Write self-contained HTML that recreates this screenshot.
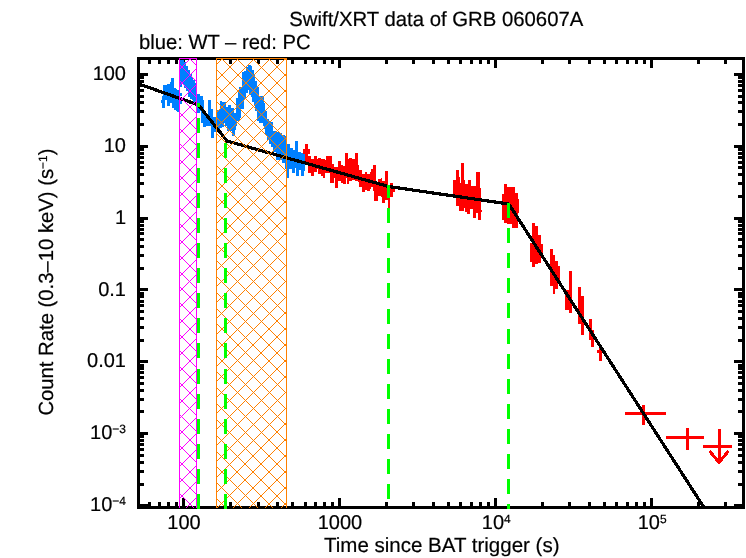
<!DOCTYPE html>
<html><head><meta charset="utf-8"><title>Swift/XRT data of GRB 060607A</title>
<style>html,body{margin:0;padding:0;background:#fff}svg{display:block}</style></head>
<body>
<svg width="746" height="558" viewBox="0 0 746 558" shape-rendering="crispEdges">
<rect width="746" height="558" fill="#fff"/>
<path d="M137 57H745V509H137Z M140 60V506H742V60Z" fill="#000" fill-rule="evenodd"/>
<path d="M148 60h3v4h-3zM148 502h3v4h-3zM158 60h3v4h-3zM158 502h3v4h-3zM167 60h3v4h-3zM167 502h3v4h-3zM175 60h3v4h-3zM175 502h3v4h-3zM182 60h3v8h-3zM182 498h3v8h-3zM229 60h3v4h-3zM229 502h3v4h-3zM257 60h3v4h-3zM257 502h3v4h-3zM276 60h3v4h-3zM276 502h3v4h-3zM291 60h3v4h-3zM291 502h3v4h-3zM304 60h3v4h-3zM304 502h3v4h-3zM314 60h3v4h-3zM314 502h3v4h-3zM323 60h3v4h-3zM323 502h3v4h-3zM331 60h3v4h-3zM331 502h3v4h-3zM338 60h3v8h-3zM338 498h3v8h-3zM385 60h3v4h-3zM385 502h3v4h-3zM412 60h3v4h-3zM412 502h3v4h-3zM432 60h3v4h-3zM432 502h3v4h-3zM447 60h3v4h-3zM447 502h3v4h-3zM459 60h3v4h-3zM459 502h3v4h-3zM470 60h3v4h-3zM470 502h3v4h-3zM479 60h3v4h-3zM479 502h3v4h-3zM487 60h3v4h-3zM487 502h3v4h-3zM494 60h3v8h-3zM494 498h3v8h-3zM541 60h3v4h-3zM541 502h3v4h-3zM568 60h3v4h-3zM568 502h3v4h-3zM588 60h3v4h-3zM588 502h3v4h-3zM603 60h3v4h-3zM603 502h3v4h-3zM615 60h3v4h-3zM615 502h3v4h-3zM626 60h3v4h-3zM626 502h3v4h-3zM635 60h3v4h-3zM635 502h3v4h-3zM643 60h3v4h-3zM643 502h3v4h-3zM650 60h3v8h-3zM650 498h3v8h-3zM697 60h3v4h-3zM697 502h3v4h-3zM724 60h3v4h-3zM724 502h3v4h-3zM140 504h8v3h-8zM734 504h8v3h-8zM140 483h4v3h-4zM738 483h4v3h-4zM140 470h4v3h-4zM738 470h4v3h-4zM140 461h4v3h-4zM738 461h4v3h-4zM140 454h4v3h-4zM738 454h4v3h-4zM140 448h4v3h-4zM738 448h4v3h-4zM140 443h4v3h-4zM738 443h4v3h-4zM140 439h4v3h-4zM738 439h4v3h-4zM140 435h4v3h-4zM738 435h4v3h-4zM140 432h8v3h-8zM734 432h8v3h-8zM140 410h4v3h-4zM738 410h4v3h-4zM140 398h4v3h-4zM738 398h4v3h-4zM140 389h4v3h-4zM738 389h4v3h-4zM140 382h4v3h-4zM738 382h4v3h-4zM140 376h4v3h-4zM738 376h4v3h-4zM140 371h4v3h-4zM738 371h4v3h-4zM140 367h4v3h-4zM738 367h4v3h-4zM140 364h4v3h-4zM738 364h4v3h-4zM140 360h8v3h-8zM734 360h8v3h-8zM140 339h4v3h-4zM738 339h4v3h-4zM140 326h4v3h-4zM738 326h4v3h-4zM140 317h4v3h-4zM738 317h4v3h-4zM140 310h4v3h-4zM738 310h4v3h-4zM140 304h4v3h-4zM738 304h4v3h-4zM140 300h4v3h-4zM738 300h4v3h-4zM140 295h4v3h-4zM738 295h4v3h-4zM140 292h4v3h-4zM738 292h4v3h-4zM140 288h8v3h-8zM734 288h8v3h-8zM140 267h4v3h-4zM738 267h4v3h-4zM140 254h4v3h-4zM738 254h4v3h-4zM140 245h4v3h-4zM738 245h4v3h-4zM140 238h4v3h-4zM738 238h4v3h-4zM140 232h4v3h-4zM738 232h4v3h-4zM140 228h4v3h-4zM738 228h4v3h-4zM140 224h4v3h-4zM738 224h4v3h-4zM140 220h4v3h-4zM738 220h4v3h-4zM140 217h8v3h-8zM734 217h8v3h-8zM140 195h4v3h-4zM738 195h4v3h-4zM140 182h4v3h-4zM738 182h4v3h-4zM140 173h4v3h-4zM738 173h4v3h-4zM140 166h4v3h-4zM738 166h4v3h-4zM140 161h4v3h-4zM738 161h4v3h-4zM140 156h4v3h-4zM738 156h4v3h-4zM140 152h4v3h-4zM738 152h4v3h-4zM140 148h4v3h-4zM738 148h4v3h-4zM140 145h8v3h-8zM734 145h8v3h-8zM140 123h4v3h-4zM738 123h4v3h-4zM140 110h4v3h-4zM738 110h4v3h-4zM140 101h4v3h-4zM738 101h4v3h-4zM140 95h4v3h-4zM738 95h4v3h-4zM140 89h4v3h-4zM738 89h4v3h-4zM140 84h4v3h-4zM738 84h4v3h-4zM140 80h4v3h-4zM738 80h4v3h-4zM140 76h4v3h-4zM738 76h4v3h-4zM140 73h8v3h-8zM734 73h8v3h-8z" fill="#000"/>
<path d="M161 100H162V103H161ZM162 96H163V108H162ZM163 85H165V108H163ZM165 85H167V100H165ZM167 84H170V106H167ZM170 82H171V103H170ZM171 78H172V103H171ZM172 78H174V108H172ZM174 88H176V110H174ZM176 89H177V111H176ZM177 90H179V112H177ZM180 60H182V87H180ZM180 93H182V96H180ZM180 100H182V104H180ZM182 60H184V84H182ZM184 62H186V88H184ZM186 66H188V91H186ZM188 70H190V97H188ZM190 74H192V99H190ZM192 77H193V100H192ZM193 80H195V102H193ZM195 83H197V103H195ZM197 94H200V113H197ZM200 96H201V111H200ZM201 96H203V123H201ZM203 100H204V127H203ZM204 114H206V127H204ZM206 114H208V126H206ZM208 100H211V126H208ZM211 109H213V138H211ZM213 117H214V138H213ZM214 117H216V132H214ZM217 110H220V129H217ZM220 101H222V128H220ZM222 102H224V127H222ZM224 102H225V123H224ZM225 102H226V126H225ZM226 107H227V126H226ZM227 107H228V131H227ZM228 105H231V131H228ZM231 108H232V131H231ZM232 108H234V136H232ZM234 113H235V136H234ZM235 113H236V130H235ZM236 98H237V126H236ZM237 98H238V121H237ZM238 92H239V121H238ZM239 87H240V121H239ZM240 87H241V118H240ZM241 87H242V109H241ZM242 72H244V109H242ZM244 71H246V99H244ZM246 67H248V93H246ZM248 65H249V90H248ZM249 65H251V95H249ZM251 66H252V97H251ZM252 70H254V102H252ZM254 75H255V106H254ZM255 81H257V111H255ZM257 87H259V121H257ZM259 96H263V123H259ZM263 97H264V126H263ZM264 103H265V129H264ZM265 111H267V135H265ZM267 119H269V140H267ZM269 121H271V144H269ZM271 122H273V147H271ZM273 131H276V152H273ZM276 132H279V160H276ZM279 133H282V160H279ZM282 135H285V163H282ZM285 136H287V169H285ZM287 144H289V178H287ZM289 144H290V169H289ZM290 148H292V169H290ZM292 148H293V173H292ZM293 150H295V173H293ZM295 141H296V168H295ZM296 141H298V176H296ZM298 152H299V176H298ZM299 152H301V170H299ZM301 153H304V176H301ZM304 152H305V171H304Z" fill="#0080ff"/>
<path d="M305 144H308V163H305ZM303 149H310V154H303ZM308 156H311V173H308ZM311 159H314V176H311ZM314 156H317V172H314ZM317 159H318V169H317ZM318 158H321V174H318ZM321 159H323V176H321ZM323 159H325V178H323ZM325 160H326V173H325ZM326 156H330V173H326ZM330 156H332V183H330ZM332 164H334V183H332ZM334 167H335V178H334ZM335 167H338V188H335ZM338 161H341V181H338ZM341 165H343V183H341ZM343 166H345V184H343ZM345 153H346V184H345ZM346 153H347V178H346ZM347 153H348V184H347ZM348 159H349V184H348ZM349 158H352V181H349ZM352 159H355V180H352ZM355 153H358V181H355ZM358 165H359V182H358ZM359 170H362V187H359ZM362 174H365V192H362ZM365 172H367V190H365ZM367 174H370V191H367ZM370 172H371V189H370ZM371 169H373V187H371ZM373 165H374V191H373ZM374 165H376V201H374ZM376 183H378V201H376ZM378 179H381V196H378ZM381 178H382V197H381ZM382 181H385V203H382ZM385 171H388V200H385ZM388 185H390V208H388ZM390 183H393V197H390ZM393 189H395V192H393ZM453 180H456V198H453ZM456 170H459V206H456ZM459 177H460V211H459ZM460 183H461V211H460ZM461 163H464V211H461ZM464 180H465V208H464ZM465 184H467V212H465ZM467 184H470V214H467ZM468 180H471V209H468ZM471 186H473V209H471ZM473 186H476V218H473ZM476 172H478V213H476ZM478 172H480V220H478ZM480 188H481V220H480ZM481 210H482V212H481ZM502 194H504V220H502ZM504 184H507V223H504ZM507 187H512V224H507ZM512 187H515V228H512ZM515 193H518V228H515ZM518 199H519V213H518ZM530 243H532V262H530ZM532 223H535V267H532ZM535 226H538V264H535ZM538 235H541V263H538ZM541 244H543V256H541ZM550 249H553V286H550ZM553 255H555V294H553ZM555 261H558V289H555ZM558 266H560V280H558ZM565 290H569V310H565ZM569 271H572V313H569ZM578 287H581V324H578ZM581 296H584V335H581ZM589 319H592V340H589ZM591 330H594V347H591ZM597 350H600V353H597ZM599 348H602V361H599ZM625 412H666V415H625ZM642 405H645V425H642ZM666 436H704V439H666ZM686 428H689V450H686ZM703 445H732V448H703ZM718 429H721V463H718Z" fill="#ff0000"/>
<path d="M709.5 451 L719 462.5 L728.5 451" fill="none" stroke="#ff0000" stroke-width="3"/>
<clipPath id="c"><rect x="137" y="57" width="608" height="452"/></clipPath>
<polyline clip-path="url(#c)" points="138.5,83.8 198.5,105.0 227.0,141.0 388.5,186.5 508.8,204.0 704.3,508.0" fill="none" stroke="#000" stroke-width="3.2" stroke-linejoin="round"/>
<clipPath id="hm"><rect x="179" y="58" width="18" height="450"/></clipPath>
<path clip-path="url(#hm)" d="M178 -246.00L198 -266.00M178 -230.00L198 -250.00M178 -214.00L198 -234.00M178 -199.00L198 -219.00M178 -183.00L198 -203.00M178 -167.00L198 -187.00M178 -151.00L198 -171.00M178 -135.00L198 -155.00M178 -119.00L198 -139.00M178 -103.00L198 -123.00M178 -87.00L198 -107.00M178 -72.00L198 -92.00M178 -56.00L198 -76.00M178 -40.00L198 -60.00M178 -24.00L198 -44.00M178 -8.00L198 -28.00M178 8.00L198 -12.00M178 24.00L198 4.00M178 40.00L198 20.00M178 55.00L198 35.00M178 71.00L198 51.00M178 87.00L198 67.00M178 103.00L198 83.00M178 119.00L198 99.00M178 135.00L198 115.00M178 151.00L198 131.00M178 166.00L198 146.00M178 182.00L198 162.00M178 198.00L198 178.00M178 214.00L198 194.00M178 230.00L198 210.00M178 246.00L198 226.00M178 262.00L198 242.00M178 278.00L198 258.00M178 293.00L198 273.00M178 309.00L198 289.00M178 325.00L198 305.00M178 341.00L198 321.00M178 357.00L198 337.00M178 373.00L198 353.00M178 389.00L198 369.00M178 405.00L198 385.00M178 420.00L198 400.00M178 436.00L198 416.00M178 452.00L198 432.00M178 468.00L198 448.00M178 484.00L198 464.00M178 500.00L198 480.00M178 516.00L198 496.00M178 531.00L198 511.00M178 547.00L198 527.00M178 563.00L198 543.00M178 579.00L198 559.00M178 595.00L198 575.00M178 611.00L198 591.00M178 627.00L198 607.00M178 643.00L198 623.00M178 -366.00L198 -346.00M178 -350.00L198 -330.00M178 -334.00L198 -314.00M178 -318.00L198 -298.00M178 -302.00L198 -282.00M178 -286.00L198 -266.00M178 -271.00L198 -251.00M178 -255.00L198 -235.00M178 -239.00L198 -219.00M178 -223.00L198 -203.00M178 -207.00L198 -187.00M178 -191.00L198 -171.00M178 -175.00L198 -155.00M178 -159.00L198 -139.00M178 -143.00L198 -123.00M178 -128.00L198 -108.00M178 -112.00L198 -92.00M178 -96.00L198 -76.00M178 -80.00L198 -60.00M178 -64.00L198 -44.00M178 -48.00L198 -28.00M178 -32.00L198 -12.00M178 -16.00L198 4.00M178 0.00L198 20.00M178 15.00L198 35.00M178 31.00L198 51.00M178 47.00L198 67.00M178 63.00L198 83.00M178 79.00L198 99.00M178 95.00L198 115.00M178 111.00L198 131.00M178 127.00L198 147.00M178 142.00L198 162.00M178 158.00L198 178.00M178 174.00L198 194.00M178 190.00L198 210.00M178 206.00L198 226.00M178 222.00L198 242.00M178 238.00L198 258.00M178 254.00L198 274.00M178 270.00L198 290.00M178 285.00L198 305.00M178 301.00L198 321.00M178 317.00L198 337.00M178 333.00L198 353.00M178 349.00L198 369.00M178 365.00L198 385.00M178 381.00L198 401.00M178 397.00L198 417.00M178 413.00L198 433.00M178 428.00L198 448.00M178 444.00L198 464.00M178 460.00L198 480.00M178 476.00L198 496.00M178 492.00L198 512.00M178 508.00L198 528.00M178 524.00L198 544.00M178 540.00L198 560.00M178 556.00L198 576.00M178 571.00L198 591.00M178 587.00L198 607.00M178 603.00L198 623.00M178 619.00L198 639.00M178 635.00L198 655.00M178 651.00L198 671.00M178 667.00L198 687.00M178 683.00L198 703.00M178 698.00L198 718.00M178 714.00L198 734.00M178 730.00L198 750.00M178 746.00L198 766.00M178 762.00L198 782.00M178 778.00L198 798.00M178 794.00L198 814.00M178 810.00L198 830.00M178 826.00L198 846.00M178 841.00L198 861.00M178 857.00L198 877.00M178 873.00L198 893.00M178 889.00L198 909.00M178 905.00L198 925.00M178 921.00L198 941.00M178 937.00L198 957.00M178 953.00L198 973.00M178 969.00L198 989.00" fill="none" stroke="#ff00ff" stroke-width="1"/>
<path d="M179 58H197V508H196V59H180V508H179Z" fill="#ff00ff"/>
<clipPath id="ho"><rect x="216" y="58" width="71" height="450"/></clipPath>
<path clip-path="url(#ho)" d="M215 -283.00L288 -356.00M215 -267.00L288 -340.00M215 -251.00L288 -324.00M215 -236.00L288 -309.00M215 -220.00L288 -293.00M215 -204.00L288 -277.00M215 -188.00L288 -261.00M215 -172.00L288 -245.00M215 -156.00L288 -229.00M215 -140.00L288 -213.00M215 -124.00L288 -197.00M215 -109.00L288 -182.00M215 -93.00L288 -166.00M215 -77.00L288 -150.00M215 -61.00L288 -134.00M215 -45.00L288 -118.00M215 -29.00L288 -102.00M215 -13.00L288 -86.00M215 3.00L288 -70.00M215 18.00L288 -55.00M215 34.00L288 -39.00M215 50.00L288 -23.00M215 66.00L288 -7.00M215 82.00L288 9.00M215 98.00L288 25.00M215 114.00L288 41.00M215 129.00L288 56.00M215 145.00L288 72.00M215 161.00L288 88.00M215 177.00L288 104.00M215 193.00L288 120.00M215 209.00L288 136.00M215 225.00L288 152.00M215 241.00L288 168.00M215 256.00L288 183.00M215 272.00L288 199.00M215 288.00L288 215.00M215 304.00L288 231.00M215 320.00L288 247.00M215 336.00L288 263.00M215 352.00L288 279.00M215 368.00L288 295.00M215 383.00L288 310.00M215 399.00L288 326.00M215 415.00L288 342.00M215 431.00L288 358.00M215 447.00L288 374.00M215 463.00L288 390.00M215 479.00L288 406.00M215 494.00L288 421.00M215 510.00L288 437.00M215 526.00L288 453.00M215 542.00L288 469.00M215 558.00L288 485.00M215 574.00L288 501.00M215 590.00L288 517.00M215 606.00L288 533.00M215 -329.00L288 -256.00M215 -313.00L288 -240.00M215 -297.00L288 -224.00M215 -281.00L288 -208.00M215 -265.00L288 -192.00M215 -249.00L288 -176.00M215 -234.00L288 -161.00M215 -218.00L288 -145.00M215 -202.00L288 -129.00M215 -186.00L288 -113.00M215 -170.00L288 -97.00M215 -154.00L288 -81.00M215 -138.00L288 -65.00M215 -122.00L288 -49.00M215 -106.00L288 -33.00M215 -91.00L288 -18.00M215 -75.00L288 -2.00M215 -59.00L288 14.00M215 -43.00L288 30.00M215 -27.00L288 46.00M215 -11.00L288 62.00M215 5.00L288 78.00M215 21.00L288 94.00M215 37.00L288 110.00M215 52.00L288 125.00M215 68.00L288 141.00M215 84.00L288 157.00M215 100.00L288 173.00M215 116.00L288 189.00M215 132.00L288 205.00M215 148.00L288 221.00M215 164.00L288 237.00M215 179.00L288 252.00M215 195.00L288 268.00M215 211.00L288 284.00M215 227.00L288 300.00M215 243.00L288 316.00M215 259.00L288 332.00M215 275.00L288 348.00M215 291.00L288 364.00M215 307.00L288 380.00M215 322.00L288 395.00M215 338.00L288 411.00M215 354.00L288 427.00M215 370.00L288 443.00M215 386.00L288 459.00M215 402.00L288 475.00M215 418.00L288 491.00M215 434.00L288 507.00M215 450.00L288 523.00M215 465.00L288 538.00M215 481.00L288 554.00M215 497.00L288 570.00M215 513.00L288 586.00M215 529.00L288 602.00M215 545.00L288 618.00M215 561.00L288 634.00M215 577.00L288 650.00M215 593.00L288 666.00M215 608.00L288 681.00M215 624.00L288 697.00M215 640.00L288 713.00M215 656.00L288 729.00M215 672.00L288 745.00M215 688.00L288 761.00M215 704.00L288 777.00M215 720.00L288 793.00M215 735.00L288 808.00M215 751.00L288 824.00M215 767.00L288 840.00M215 783.00L288 856.00M215 799.00L288 872.00M215 815.00L288 888.00M215 831.00L288 904.00M215 847.00L288 920.00M215 863.00L288 936.00M215 878.00L288 951.00M215 894.00L288 967.00M215 910.00L288 983.00M215 926.00L288 999.00M215 942.00L288 1015.00M215 958.00L288 1031.00M215 974.00L288 1047.00M215 990.00L288 1063.00M215 1006.00L288 1079.00" fill="none" stroke="#ff8000" stroke-width="1"/>
<path d="M216 58H287V508H286V59H217V508H216Z" fill="#ff8000"/>
<path d="M197 494.0H200V509.0H197ZM197 468.9H200V483.9H197ZM197 443.8H200V458.8H197ZM197 418.7H200V433.7H197ZM197 393.6H200V408.6H197ZM197 368.5H200V383.5H197ZM197 343.4H200V358.4H197ZM197 318.3H200V333.3H197ZM197 293.2H200V308.2H197ZM197 268.1H200V283.1H197ZM197 243.0H200V258.0H197ZM197 217.9H200V232.9H197ZM197 192.8H200V207.8H197ZM197 167.7H200V182.7H197ZM197 142.6H200V157.6H197ZM197 117.5H200V132.5H197ZM197 103.0H200V107.4H197ZM224 494.0H227V509.0H224ZM224 468.9H227V483.9H224ZM224 443.8H227V458.8H224ZM224 418.7H227V433.7H224ZM224 393.6H227V408.6H224ZM224 368.5H227V383.5H224ZM224 343.4H227V358.4H224ZM224 318.3H227V333.3H224ZM224 293.2H227V308.2H224ZM224 268.1H227V283.1H224ZM224 243.0H227V258.0H224ZM224 217.9H227V232.9H224ZM224 192.8H227V207.8H224ZM224 167.7H227V182.7H224ZM224 142.6H227V157.6H224ZM387 185.0H390V198.0H387ZM387 208.1H390V223.1H387ZM387 233.2H390V248.2H387ZM387 258.3H390V273.3H387ZM387 283.4H390V298.4H387ZM387 308.5H390V323.5H387ZM387 333.6H390V348.6H387ZM387 358.7H390V373.7H387ZM387 383.8H390V398.8H387ZM387 408.9H390V423.9H387ZM387 434.0H390V449.0H387ZM387 459.1H390V474.1H387ZM387 484.2H390V499.2H387ZM507 203.0H510V218.0H507ZM507 228.1H510V243.1H507ZM507 253.2H510V268.2H507ZM507 278.3H510V293.3H507ZM507 303.4H510V318.4H507ZM507 328.5H510V343.5H507ZM507 353.6H510V368.6H507ZM507 378.7H510V393.7H507ZM507 403.8H510V418.8H507ZM507 428.9H510V443.9H507ZM507 454.0H510V469.0H507ZM507 479.1H510V494.1H507ZM507 504.2H510V509.0H507Z" fill="#00ff00"/>
<g font-family="'Liberation Sans', Arial, Helvetica, sans-serif" font-size="20.5" fill="#000" stroke="#000" stroke-width="0.2" text-rendering="geometricPrecision">
<text x="289.3" y="26" textLength="294" lengthAdjust="spacingAndGlyphs">Swift/XRT data of GRB 060607A</text>
<text x="139" y="49" textLength="171.5" lengthAdjust="spacingAndGlyphs">blue: WT – red: PC</text>
<text x="324" y="552" textLength="235.5" lengthAdjust="spacingAndGlyphs">Time since BAT trigger (s)</text>
<text transform="translate(52.5 415.6) rotate(-90)" textLength="267" lengthAdjust="spacingAndGlyphs">Count Rate (0.3–10 keV) (s<tspan font-size="12" dy="-6">−1</tspan><tspan dy="6">)</tspan></text>
<text x="126" y="80.1" text-anchor="end" font-size="20">100</text>
<text x="126" y="151.9" text-anchor="end" font-size="20">10</text>
<text x="126" y="223.8" text-anchor="end" font-size="20">1</text>
<text x="126" y="295.6" text-anchor="end" font-size="20">0.1</text>
<text x="126" y="367.4" text-anchor="end" font-size="20">0.01</text>
<text x="126" y="439.2" text-anchor="end" font-size="20">10<tspan font-size="12" dy="-6">−3</tspan></text>
<text x="126" y="511.1" text-anchor="end" font-size="20">10<tspan font-size="12" dy="-6">−4</tspan></text>
<text x="184.0" y="529" text-anchor="middle" font-size="20">100</text>
<text x="339.9" y="529" text-anchor="middle" font-size="20">1000</text>
<text x="496.3" y="529" text-anchor="middle" font-size="20">10<tspan font-size="12" dy="-6">4</tspan></text>
<text x="652.2" y="529" text-anchor="middle" font-size="20">10<tspan font-size="12" dy="-6">5</tspan></text>
</g>
</svg>
</body></html>
